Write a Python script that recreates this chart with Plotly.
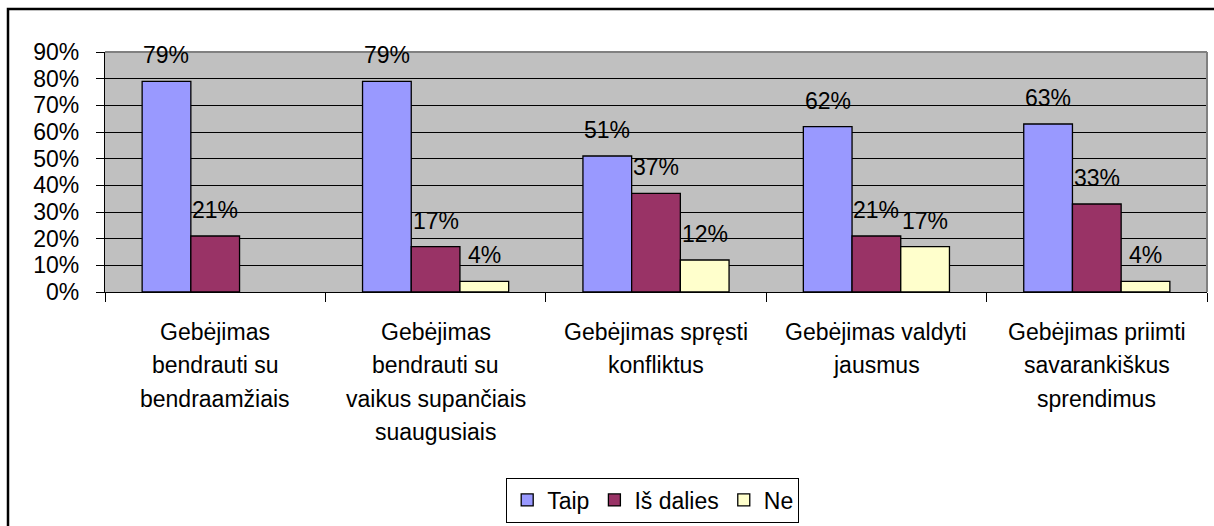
import plotly.graph_objects as go

categories = [
    "Gebėjimas bendrauti su bendraamžiais",
    "Gebėjimas bendrauti su vaikus supančiais suaugusiais",
    "Gebėjimas spręsti konfliktus",
    "Gebėjimas valdyti jausmus",
    "Gebėjimas priimti savarankiškus sprendimus",
]
category_lines = [
    ["Gebėjimas", "bendrauti su", "bendraamžiais"],
    ["Gebėjimas", "bendrauti su", "vaikus supančiais", "suaugusiais"],
    ["Gebėjimas spręsti", "konfliktus"],
    ["Gebėjimas valdyti", "jausmus"],
    ["Gebėjimas priimti", "savarankiškus", "sprendimus"],
]
series_names = ["Taip", "Iš dalies", "Ne"]
taip = [0.79, 0.79, 0.51, 0.62, 0.63]
is_dalies = [0.21, 0.17, 0.37, 0.21, 0.33]
ne = [None, 0.04, 0.12, 0.17, 0.04]
series_values = [taip, is_dalies, ne]
series_colors = ["#9999FF", "#993366", "#FFFFCC"]

FONT = "Liberation Sans, Arial, sans-serif"
FS = 23
BARGAP = 0.337

W, H = 1214, 526
ML, MR, MT, MB = 105, 7, 52, 234
PW, PH = W - ML - MR, H - MT - MB

fig = go.Figure()
for name, vals, col in zip(series_names, series_values, series_colors):
    fig.add_trace(go.Bar(
        x=categories, y=vals, name=name,
        marker=dict(color=col, line=dict(color="black", width=1.3)),
    ))

annotations = []
bw = (1 - BARGAP) / 3
for k, vals in enumerate(series_values):
    for i, v in enumerate(vals):
        if v is None:
            continue
        annotations.append(dict(
            x=i + (k - 1) * bw, y=v, xref="x", yref="y",
            text=f"{round(v*100)}%", showarrow=False,
            yanchor="middle", xanchor="center", yshift=26,
            font=dict(family=FONT, size=FS, color="black"),
        ))

LINE0 = 40
LSP = 33.3
for i, lines in enumerate(category_lines):
    for j, line in enumerate(lines):
        annotations.append(dict(
            x=i, y=0, xref="x", yref="paper",
            text=line, showarrow=False,
            yanchor="middle", xanchor="center",
            yshift=-(LINE0 + j * LSP),
            font=dict(family=FONT, size=FS, color="black"),
        ))

shapes = [
    # outer chart frame (top and left visible)
    dict(type="rect", xref="paper", yref="paper",
         x0=(8 - ML) / PW, x1=1.2, y0=-1.5, y1=(MT + PH - 9) / PH,
         line=dict(color="black", width=2.5), fillcolor="rgba(0,0,0,0)", layer="above"),
    # plot area top and right border (gray)
    dict(type="line", xref="paper", yref="paper", x0=0, x1=1, y0=1, y1=1,
         line=dict(color="#808080", width=2), layer="above"),
    dict(type="line", xref="paper", yref="paper", x0=1, x1=1, y0=0, y1=1,
         line=dict(color="#808080", width=2), layer="above"),
]

fig.update_layout(
    width=W, height=H,
    margin=dict(l=ML, r=MR, t=MT, b=MB, autoexpand=False),
    paper_bgcolor="white",
    plot_bgcolor="#C0C0C0",
    barmode="group",
    bargap=BARGAP,
    bargroupgap=0,
    font=dict(family=FONT, size=FS, color="black"),
    showlegend=True,
    legend=dict(
        orientation="h", x=0.497, xanchor="center", y=(MT + PH - 500) / PH, yanchor="middle",
        bordercolor="black", borderwidth=1, bgcolor="white",
        font=dict(family=FONT, size=FS, color="black"),
        traceorder="normal", itemclick=False,
    ),
    annotations=annotations,
    shapes=shapes,
    xaxis=dict(
        showticklabels=False, ticks="outside", tickson="boundaries", ticklen=9,
        tickcolor="black", tickwidth=1.3,
        showline=True, linecolor="black", linewidth=1.3,
        showgrid=False, zeroline=False, automargin=False,
    ),
    yaxis=dict(
        range=[0, 0.9], dtick=0.1, tick0=0, tickformat=".0%",
        ticks="outside", ticklen=8, tickcolor="black", tickwidth=1.3,
        ticklabelstandoff=12,
        showline=True, linecolor="black", linewidth=1.3,
        showgrid=True, gridcolor="black", gridwidth=1.3,
        zeroline=False, automargin=False,
        tickfont=dict(family=FONT, size=FS, color="black"),
    ),
)

fig.write_html(
    "out.html",
    config={"displayModeBar": False},
    post_script="document.body.style.margin='0';document.body.style.overflow='hidden';",
)
